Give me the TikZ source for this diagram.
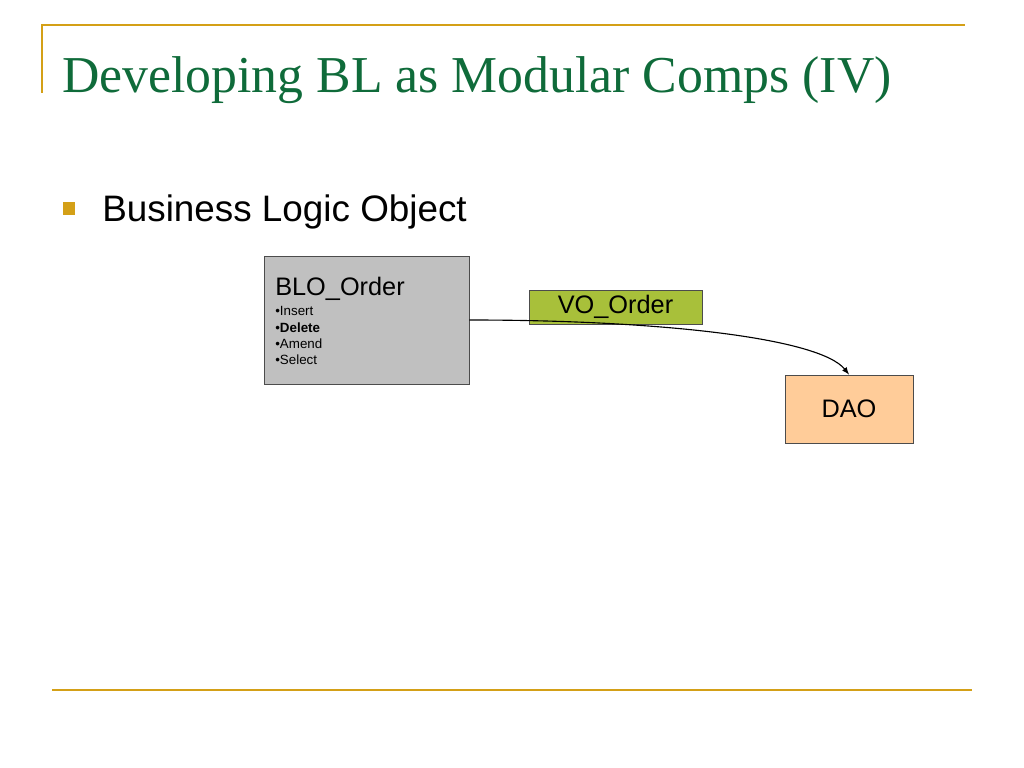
\documentclass[tikz,border=0pt]{standalone}
\usepackage{fontspec}
\setmainfont{Liberation Serif}
\newfontfamily\arialfont{Liberation Sans}
\begin{document}
\begin{tikzpicture}[x=0.025cm,y=-0.025cm,font=\arialfont]
  \definecolor{slidegold}{HTML}{D4A017}
  \definecolor{slidegreen}{HTML}{0F6B3A}
  \definecolor{blogray}{HTML}{C0C0C0}
  \definecolor{vogreen}{HTML}{A8C03A}
  \definecolor{daopeach}{HTML}{FFCC99}
  \tikzset{compbox/.style={draw=black!70,line width=0.6pt,inner sep=0pt}}

  \useasboundingbox[fill=white] (0,0) rectangle (1024,768);
  % frame lines
  \draw[slidegold,line width=1.4pt] (42,93) -- (42,25) -- (965,25);
  \draw[slidegold,line width=1.4pt] (52,690) -- (972,690);

  % title and bullet
  \node[anchor=base west,text=slidegreen,font=\rmfamily\fontsize{36.8}{40}\selectfont,inner sep=0pt]
    (title) at (62,93) {Developing BL as Modular Comps (IV)};
  \fill[slidegold] (63,202) rectangle (75,215);
  \node[anchor=base west,font=\arialfont\fontsize{26.2}{30}\selectfont,inner sep=0pt]
    (point) at (102,221) {Business Logic Object};

  % components
  \node[compbox,fill=blogray,minimum width=5.125cm,minimum height=3.2cm] (blo) at (366.5,320) {};
  \node[anchor=north west,align=left,inner sep=0pt,font=\arialfont\fontsize{9.5}{11.7}\selectfont]
    (blotext) at (275,277) {{\fontsize{18}{19}\selectfont BLO\_Order}\\[2.5pt]
      •Insert\\ •\textbf{Delete}\\ •Amend\\ •Select};
  \node[compbox,fill=vogreen,minimum width=4.325cm,minimum height=0.85cm,
    font=\arialfont\fontsize{18}{20}\selectfont] (vo) at (615.5,307) {VO\_Order};
  \node[compbox,fill=daopeach,minimum width=3.2cm,minimum height=1.7cm,
    font=\arialfont\fontsize{18}{20}\selectfont] (dao) at (849,409) {DAO};

  \draw[-latex,line width=0.8pt] (blo.east) .. controls (660,320) and (820,338) .. (dao.north);
\end{tikzpicture}
\end{document}
